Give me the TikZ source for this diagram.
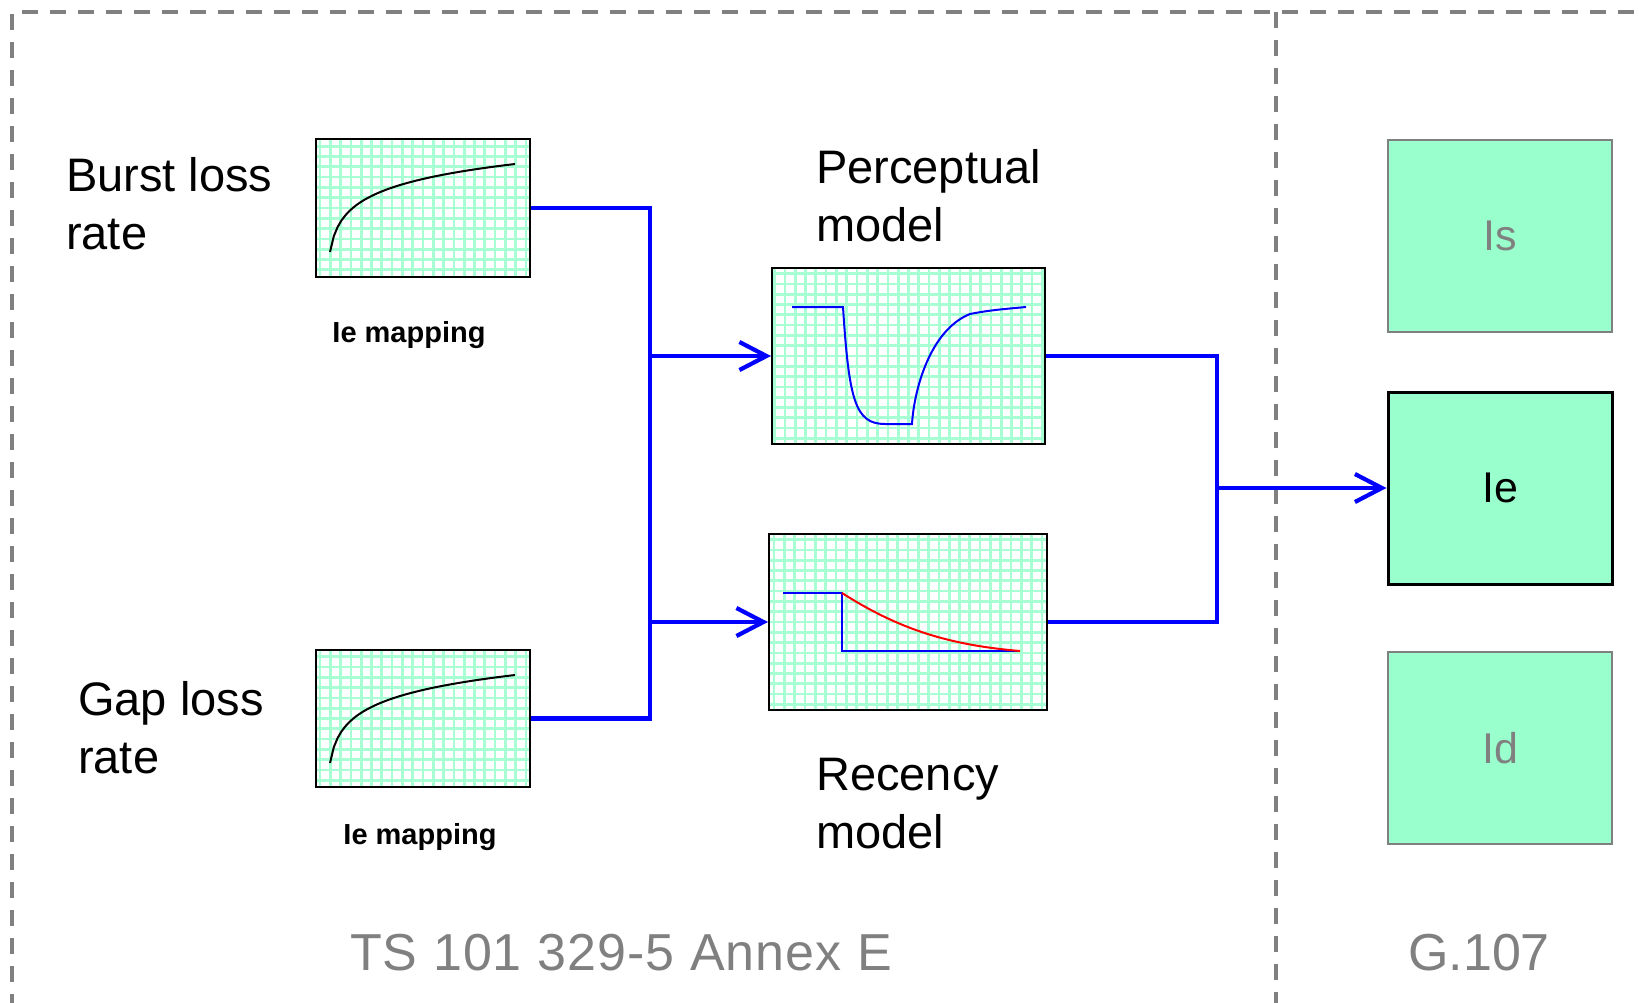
\documentclass[tikz,border=0pt]{standalone}
\usepackage{fontspec}
\setmainfont{Liberation Sans}
\usetikzlibrary{arrows.meta}

\definecolor{mint}{HTML}{99FFCC}
\definecolor{framegray}{HTML}{808080}

\begin{document}
\begin{tikzpicture}[x=1pt, y=-1pt,
  chart/.style={draw=black, line width=2pt, fill=white, inner sep=0pt,
    path picture={\draw[mint!85!white, line width=2.7pt, step=10.3pt]
      (path picture bounding box.south west) grid
      (path picture bounding box.north east);}},
  factor/.style={fill=mint, draw=framegray, line width=2pt, inner sep=0pt,
    minimum width=224pt, minimum height=192pt, text=framegray,
    font=\fontsize{43}{50}\selectfont},
  biglabel/.style={anchor=base west, align=left, inner sep=0pt,
    font=\fontsize{47}{58}\selectfont},
  maplabel/.style={anchor=base, inner sep=0pt,
    font=\fontsize{29}{34}\selectfont\bfseries},
  footlabel/.style={anchor=base, inner sep=0pt, text=framegray,
    font=\fontsize{52}{60}\selectfont},
  frame/.style={draw=framegray, line width=4pt, dash pattern=on 16pt off 12pt},
  wire/.style={draw=blue, line width=4.2pt},
  arrow/.style={-{Straight Barb[length=27pt,width=28pt]}}]
\path[use as bounding box, clip] (0,0) rectangle (1639,1002);

% dashed frame
\draw[frame] (12,1010) -- (12,12) -- (1660,12);
\draw[frame] (1276,12) -- (1276,1010);

% loss rate mappings
\node[biglabel] (burstlbl) at (66,249) {Burst loss\\rate};
\node[biglabel] (gaplbl) at (78,773) {Gap loss\\rate};
\node[chart, minimum width=214pt, minimum height=138pt] (burstmap) at (423,208) {};
\node[chart, minimum width=214pt, minimum height=137pt] (gapmap) at (423,718.5) {};
\draw[line width=2pt] plot[domain=0:1, samples=50]
  ({330+185*\x},{252-88*ln(1+50*\x)/ln(51)});
\draw[line width=2pt] plot[domain=0:1, samples=50]
  ({330+185*\x},{763-88*ln(1+50*\x)/ln(51)});
\node[maplabel] (burstmaplbl) at (409,342) {Ie mapping};
\node[maplabel] (gapmaplbl) at (420,844) {Ie mapping};

% models
\node[biglabel] (perclbl) at (816,241) {Perceptual\\model};
\node[biglabel] (reclbl) at (816,848) {Recency\\model};
\node[chart, minimum width=273pt, minimum height=176pt] (percmodel) at (908.5,356) {};
\node[chart, minimum width=278pt, minimum height=176pt] (recmodel) at (908,622) {};
\draw[blue, line width=2pt] (792,307) -- (843,307)
  .. controls (849,400) and (855,424) .. (885,424) -- (912,424)
  .. controls (914,390) and (930,330) .. (970,314)
  .. controls (990,310) and (1005,309) .. (1026,307);
\draw[blue, line width=2.5pt] (783,593) -- (842,593) -- (842,651) -- (1020,651);
\draw[red, line width=2pt] (842,593) .. controls (900,630) and (950,645) .. (1020,651);

% G.107 factors
\node[factor] (is) at (1500,235.5) {Is};
\node[factor, draw=black, line width=3pt, text=black] (ie) at (1500,488) {Ie};
\node[factor] (id) at (1500,748) {Id};

% connections
\coordinate (jperc) at (650,356);
\coordinate (jrec) at (650,622);
\coordinate (jout) at (1217,488);
\draw[wire] (burstmap.east) -| (jrec);
\draw[wire] (gapmap.east) -| (jperc);
\draw[wire, arrow] (jperc) -- (percmodel.west);
\draw[wire, arrow] (jrec) -- (recmodel.west);
\draw[wire] (percmodel.east) -| (jout);
\draw[wire] (recmodel.east) -| (jout);
\draw[wire, arrow] (jout) -- (ie.west);

\node[footlabel] (annexlbl) at (621,970) {\addfontfeature{LetterSpace=2}TS 101 329-5 Annex E};
\node[footlabel] (g107lbl) at (1479,970) {G.107};
\end{tikzpicture}
\end{document}
